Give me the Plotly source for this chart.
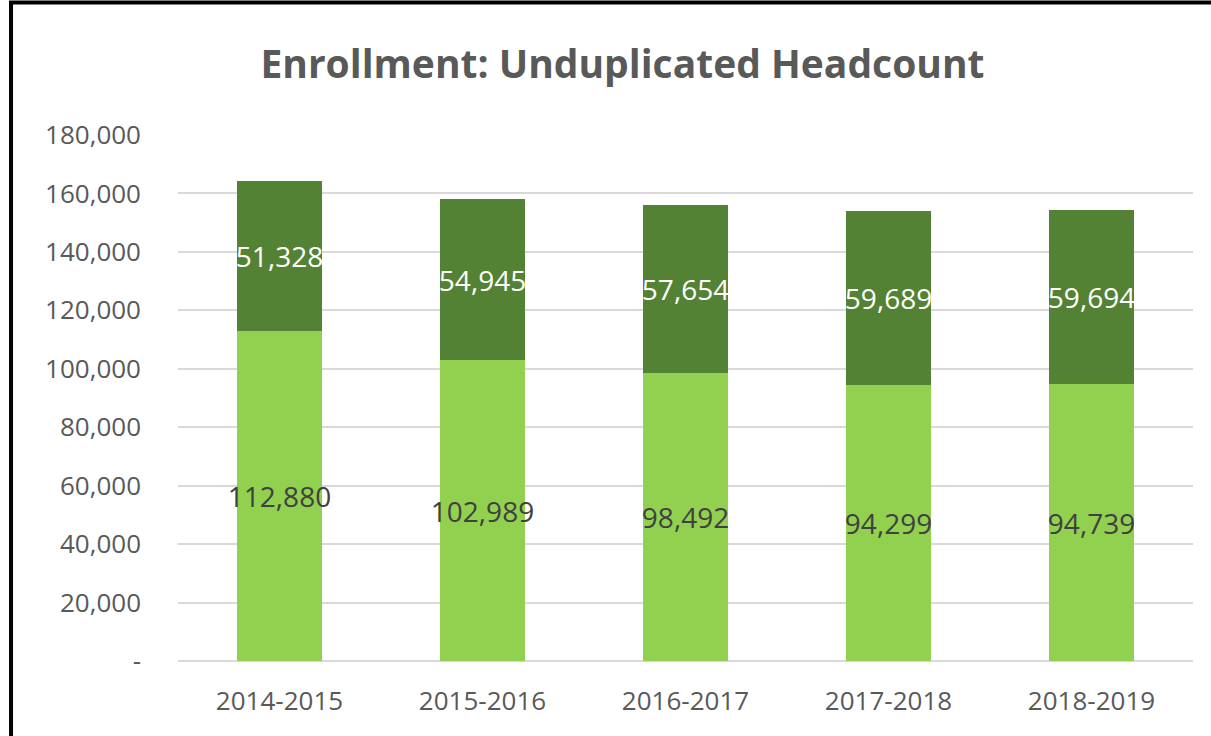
import plotly.graph_objects as go

# data
years = ["2014-2015", "2015-2016", "2016-2017", "2017-2018", "2018-2019"]
lower_counts = [112880, 102989, 98492, 94299, 94739]
upper_counts = [51328, 54945, 57654, 59689, 59694]
y_ticks = [0, 20000, 40000, 60000, 80000, 100000, 120000, 140000, 160000, 180000]
y_tick_text = ["-" if v == 0 else f"{v:,}" for v in y_ticks]

FONT = "Open Sans"

fig = go.Figure()
fig.add_trace(go.Bar(
    x=years, y=lower_counts, name="lower",
    marker=dict(color="#92D050", line=dict(width=0)),
    texttemplate="%{y:,}", textposition="inside", insidetextanchor="middle",
    constraintext="none", textangle=0,
    textfont=dict(family=FONT, size=28, color="#404040"),
))
fig.add_trace(go.Bar(
    x=years, y=upper_counts, name="upper",
    marker=dict(color="#548235", line=dict(width=0)),
    texttemplate="%{y:,}", textposition="inside", insidetextanchor="middle",
    constraintext="none", textangle=0,
    textfont=dict(family=FONT, size=28, color="#FFFFFF"),
))

fig.update_layout(
    barmode="stack",
    bargap=0.586,
    width=1211, height=736,
    margin=dict(l=178, r=18, t=135, b=75),
    paper_bgcolor="white", plot_bgcolor="white",
    showlegend=False,
    font=dict(family=FONT, color="#595959"),
    title=dict(
        text="<b>Enrollment: Unduplicated Headcount</b>",
        x=0.514, xanchor="center", y=0.912, yanchor="middle",
        font=dict(family=FONT, size=39, color="#595959"),
    ),
)
fig.update_yaxes(
    range=[0, 180000], tickvals=y_ticks, ticktext=y_tick_text,
    showgrid=True, gridcolor="#D9D9D9", gridwidth=2,
    zeroline=True, zerolinecolor="#D9D9D9", zerolinewidth=2,
    showline=False, ticks="", ticklabelstandoff=36,
    tickfont=dict(family=FONT, size=26, color="#595959"),
)
fig.update_xaxes(
    showgrid=False, showline=False, ticks="", ticklabelstandoff=22,
    tickfont=dict(family=FONT, size=26, color="#595959"),
)

# black frame around the chart area, as in the screenshot
fig.add_shape(type="rect", xref="paper", yref="paper",
              x0=-0.1645, x1=1.03, y0=-0.2, y1=1.2519,
              line=dict(color="black", width=4), fillcolor="rgba(0,0,0,0)",
              layer="above")

# page body has an 8px default margin; drop it so the figure sits at 0,0
fig.write_html("out.html", config={"displayModeBar": False},
               post_script="document.body.style.margin='0';")
